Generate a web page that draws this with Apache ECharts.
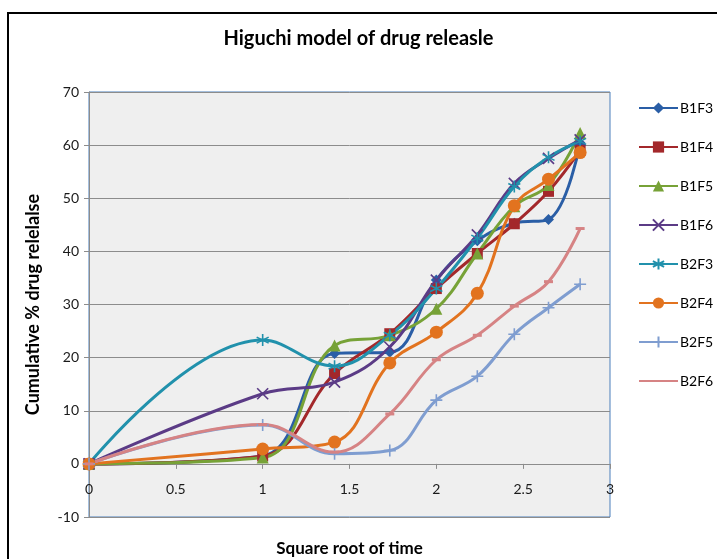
<!DOCTYPE html>
<html>
<head>
<meta charset="utf-8">
<script src="https://cdn.jsdelivr.net/npm/echarts@6/dist/echarts.min.js"></script>
<style>html,body{margin:0;padding:0;background:#fff}#c{width:717px;height:559px}</style>
</head>
<body>
<div id="c"></div>
<script>
var xVals = [0, 1, 1.414, 1.732, 2, 2.236, 2.449, 2.646, 2.828];
var seriesNames = ['B1F3','B1F4','B1F5','B1F6','B2F3','B2F4','B2F5','B2F6'];
var B1F3 = [0, 1.5, 20.8, 21.0, 34.6, 42.0, 45.3, 46.0, 60.4];
var B1F4 = [0, 1.5, 17.0, 24.5, 33.0, 39.6, 45.2, 51.3, 59.0];
var B1F5 = [0, 1.2, 22.3, 24.2, 29.2, 39.6, 48.5, 52.5, 62.3];
var B1F6 = [0, 13.2, 15.4, 22.0, 34.6, 43.1, 52.8, 57.5, 61.0];
var B2F3 = [0, 23.3, 18.4, 24.2, 33.0, 42.5, 52.2, 57.7, 60.7];
var B2F4 = [0, 2.8, 4.1, 19.0, 24.8, 32.1, 48.6, 53.6, 58.6];
var B2F5 = [0, 7.3, 1.9, 2.5, 12.0, 16.5, 24.4, 29.4, 33.8];
var B2F6 = [0, 7.4, 2.2, 9.4, 19.6, 24.2, 29.7, 34.3, 44.3];
var yTicks = [-10, 0, 10, 20, 30, 40, 50, 60, 70];
var xTicks = [0, 0.5, 1, 1.5, 2, 2.5, 3];

var allData = [B1F3, B1F4, B1F5, B1F6, B2F3, B2F4, B2F5, B2F6];
var colors = ['#2A5EA6','#A3282B','#77A237','#5B3B86','#2191AC','#E2731F','#7F9DD0','#D68384'];
var symbols = ['diamond','rect','triangle',
  'path://M0,0L10,10M10,0L0,10',
  'path://M5,0L5,10M0.7,2.5L9.3,7.5M0.7,7.5L9.3,2.5',
  'circle',
  'path://M5,0L5,10M0,5L10,5',
  'rect'];
var sizes = [11, 11, 12, 11, 12, 13, 12, [9,3]];
var FONT = 'Lato, "Open Sans", sans-serif';

var series = seriesNames.map(function(n, i){
  var isPath = symbols[i].indexOf('path://') === 0;
  return {
    name: n, type: 'line', smooth: 0.4,
    data: xVals.map(function(x, k){ return [x, allData[i][k]]; }),
    symbol: symbols[i], symbolSize: sizes[i],
    lineStyle: {color: colors[i], width: 3},
    itemStyle: isPath ? {color: colors[i], borderColor: colors[i], borderWidth: 1.6} : {color: colors[i]},
    emphasis: {disabled: true}
  };
});

var legendData = seriesNames.map(function(n){
  return n === 'B2F6' ? {name: n, itemStyle: {opacity: 0}} : {name: n};
});

var GRID_TOP = 92, GRID_BOTTOM = 42, H = 559;
var yMin = -10, yMax = 70;
var xAxisOffset = -(H - GRID_TOP - GRID_BOTTOM) * (0 - yMin) / (yMax - yMin);

var chart = echarts.init(document.getElementById('c'));
chart.setOption({
  animation: false,
  backgroundColor: '#fff',
  color: colors,
  title: {
    text: 'Higuchi model of drug releasle', left: 'center', top: 24,
    textStyle: {fontFamily: FONT, fontSize: 20, fontWeight: 'bold', color: '#000'}
  },
  legend: {
    orient: 'vertical', left: 633, top: 96,
    itemWidth: 39, itemHeight: 14, itemGap: 25,
    textStyle: {fontFamily: FONT, fontSize: 14, color: '#000', padding: [0,0,0,-3]},
    data: legendData
  },
  grid: {
    left: 89, right: 107, top: GRID_TOP, bottom: GRID_BOTTOM,
    outerBoundsMode: 'none', containLabel: false,
    show: true, backgroundColor: '#EFEFEF', borderColor: '#4A7EBB', borderWidth: 1
  },
  xAxis: {
    type: 'value', min: 0, max: 3, interval: 0.5,
    position: 'bottom', offset: xAxisOffset,
    name: 'Square root of time', nameLocation: 'middle', nameGap: 76,
    nameTextStyle: {fontFamily: FONT, fontSize: 17, fontWeight: 'bold', color: '#000'},
    axisLine: {show: true, onZero: false, lineStyle: {color: '#8C8C8C', width: 1}},
    axisTick: {show: true, length: 5, lineStyle: {color: '#8C8C8C'}},
    axisLabel: {fontFamily: FONT, fontSize: 14, color: '#1a1a1a', margin: 19,
      formatter: function(v){ return String(v); }},
    splitLine: {show: false}
  },
  yAxis: {
    type: 'value', min: yMin, max: yMax, interval: 10,
    name: 'Cumulative % drug relelalse', nameLocation: 'middle', nameGap: 47,
    nameTextStyle: {fontFamily: FONT, fontSize: 18, fontWeight: 'bold', color: '#000'},
    axisLine: {show: true, onZero: false, lineStyle: {color: '#8C8C8C', width: 1}},
    axisTick: {show: true, length: 5, lineStyle: {color: '#8C8C8C'}},
    axisLabel: {fontFamily: FONT, fontSize: 14, color: '#1a1a1a', margin: 10},
    splitLine: {show: true, lineStyle: {color: '#8C8C8C', width: 1}}
  },
  graphic: [{
    type: 'rect', silent: true, z: 100,
    shape: {x: 8, y: 13, width: 730, height: 570},
    style: {fill: 'none', stroke: '#000', lineWidth: 2}
  }],
  series: series
});
</script>
</body>
</html>
